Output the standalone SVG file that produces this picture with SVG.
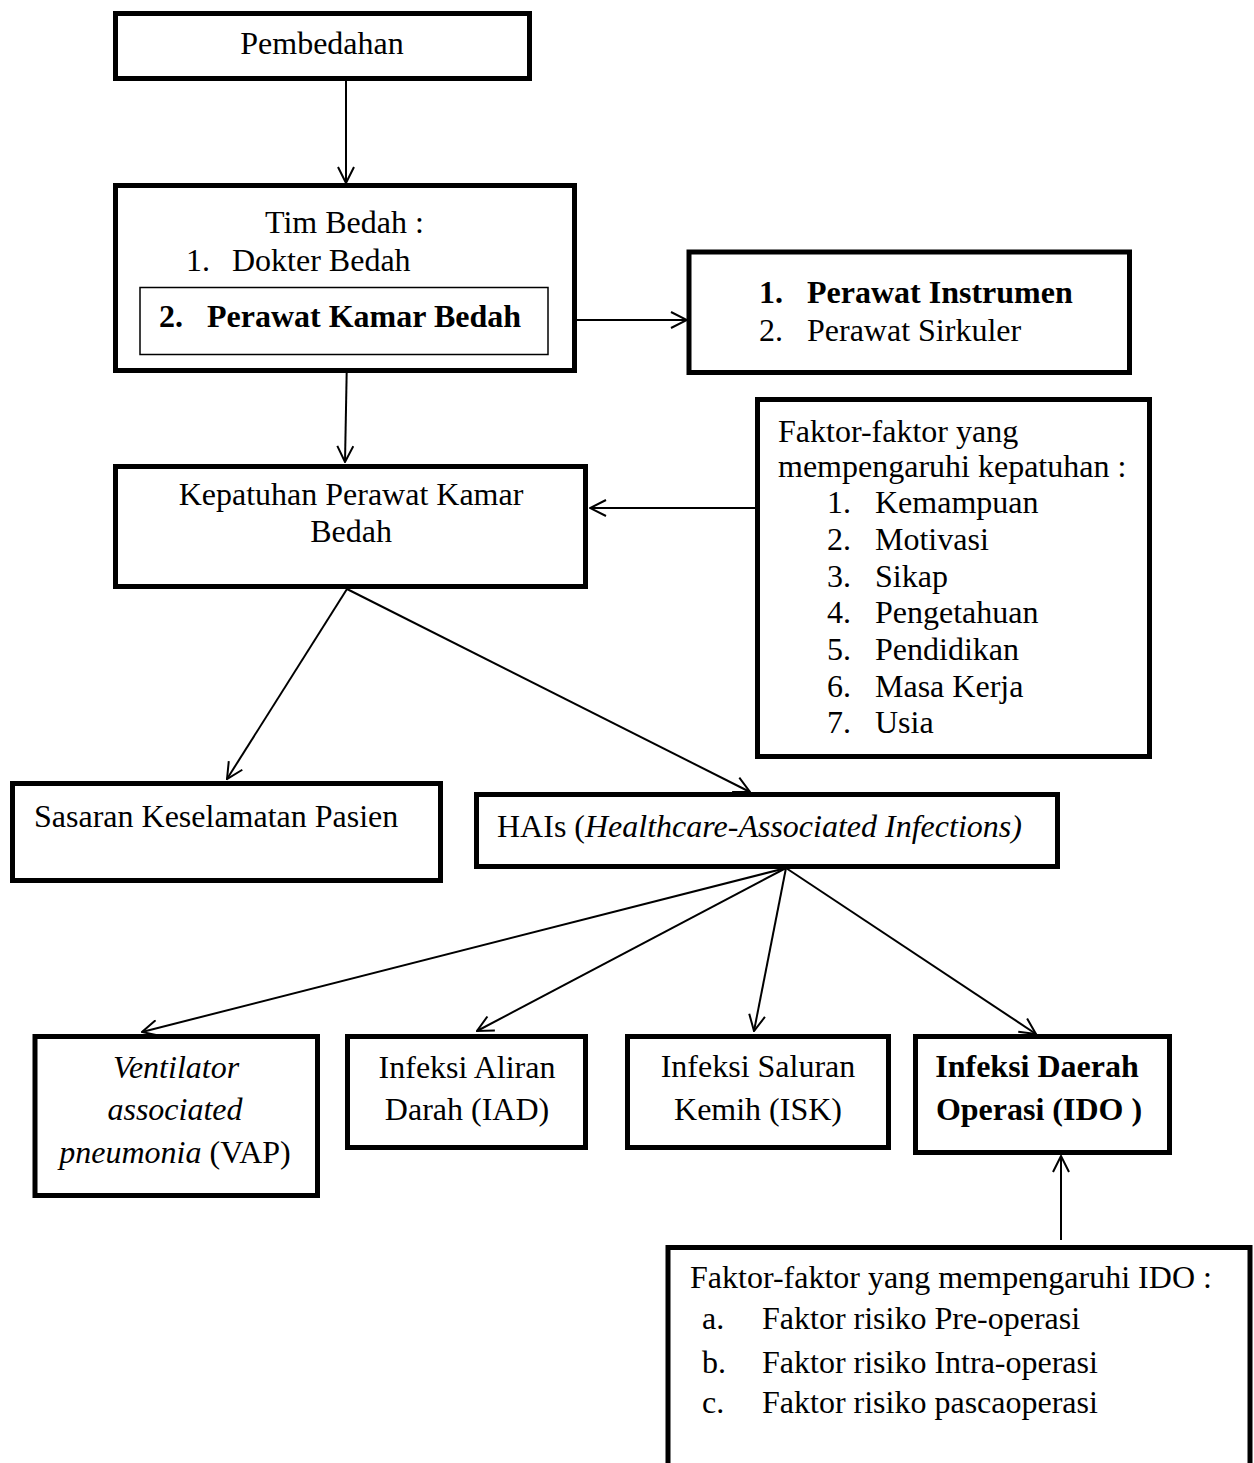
<svg xmlns="http://www.w3.org/2000/svg" width="1254" height="1463" viewBox="0 0 1254 1463">
<style>
text { font-family: "Liberation Serif", "Times New Roman", serif; font-size: 32px; fill: #000; }
.b { font-weight: bold; }
.i { font-style: italic; }
.m { text-anchor: middle; }
.box { fill: #fff; stroke: #000; stroke-width: 5; }
.thin { fill: #fff; stroke: #000; stroke-width: 1.5; }
.edge { fill: none; stroke: #000; stroke-width: 2; marker-end: url(#arr); }
</style>
<defs>
<marker id="arr" viewBox="0 0 18 18" refX="17" refY="9" markerWidth="18" markerHeight="18" markerUnits="userSpaceOnUse" orient="auto">
<path d="M1,1 L17,9 L1,17" fill="none" stroke="#000" stroke-width="2"/>
</marker>
</defs>
<rect width="1254" height="1463" fill="#fff"/>

<g id="connectors">
<line class="edge" x1="346" y1="81" x2="346" y2="183"/>
<line class="edge" x1="549" y1="320" x2="687" y2="320"/>
<line class="edge" x1="347" y1="355" x2="345" y2="462"/>
<line class="edge" x1="755" y1="508" x2="590" y2="508"/>
<line class="edge" x1="347" y1="589" x2="227" y2="779"/>
<line class="edge" x1="347" y1="589" x2="750" y2="792"/>
<line class="edge" x1="786" y1="868" x2="142" y2="1032"/>
<line class="edge" x1="786" y1="868" x2="477" y2="1031"/>
<line class="edge" x1="786" y1="868" x2="754" y2="1031"/>
<line class="edge" x1="786" y1="868" x2="1036" y2="1034"/>
<line class="edge" x1="1061" y1="1240" x2="1061" y2="1156"/>
</g>

<g id="pembedahan">
<rect class="box" x="115.5" y="13.5" width="414" height="65"/>
<text class="m" x="322" y="54">Pembedahan</text>
</g>

<g id="tim-bedah">
<rect class="box" x="115.5" y="185.5" width="459" height="185"/>
<text x="265" y="233">Tim Bedah :</text>
<text x="186" y="271">1.</text>
<text x="232" y="271">Dokter Bedah</text>
</g>

<g id="perawat-kamar-bedah">
<rect class="thin" x="140" y="287.5" width="408" height="67"/>
<text class="b" x="159" y="327">2.</text>
<text class="b" x="207" y="327">Perawat Kamar Bedah</text>
</g>

<g id="perawat-instrumen">
<rect class="box" x="689" y="252" width="440.5" height="120.5"/>
<text class="b" x="759" y="303">1.</text>
<text class="b" x="807" y="303">Perawat Instrumen</text>
<text x="759" y="341">2.</text>
<text x="807" y="341">Perawat Sirkuler</text>
</g>

<g id="kepatuhan">
<rect class="box" x="115.5" y="466.5" width="470" height="120"/>
<text class="m" x="351" y="505">Kepatuhan Perawat Kamar</text>
<text class="m" x="351" y="542">Bedah</text>
</g>

<g id="faktor-kepatuhan">
<rect class="box" x="757.5" y="399.5" width="392" height="357"/>
<text x="778" y="442">Faktor-faktor yang</text>
<text x="778" y="477">mempengaruhi kepatuhan :</text>
<text x="827" y="513">1.</text><text x="875" y="513">Kemampuan</text>
<text x="827" y="550">2.</text><text x="875" y="550">Motivasi</text>
<text x="827" y="587">3.</text><text x="875" y="587">Sikap</text>
<text x="827" y="623">4.</text><text x="875" y="623">Pengetahuan</text>
<text x="827" y="660">5.</text><text x="875" y="660">Pendidikan</text>
<text x="827" y="697">6.</text><text x="875" y="697">Masa Kerja</text>
<text x="827" y="733">7.</text><text x="875" y="733">Usia</text>
</g>

<g id="sasaran">
<rect class="box" x="12.5" y="783.5" width="428" height="97"/>
<text x="34" y="827">Sasaran Keselamatan Pasien</text>
</g>

<g id="hais">
<rect class="box" x="476.5" y="794.5" width="581" height="72"/>
<text x="497" y="837">HAIs (<tspan class="i">Healthcare-Associated Infections)</tspan></text>
</g>

<g id="vap">
<rect class="box" x="35" y="1036.5" width="282.5" height="159"/>
<text class="m i" x="176" y="1078">Ventilator</text>
<text class="m i" x="175" y="1120">associated</text>
<text class="m" x="175" y="1163"><tspan class="i">pneumonia</tspan> (VAP)</text>
</g>

<g id="iad">
<rect class="box" x="347.5" y="1036.5" width="238" height="111"/>
<text class="m" x="467" y="1078">Infeksi Aliran</text>
<text class="m" x="467" y="1120">Darah (IAD)</text>
</g>

<g id="isk">
<rect class="box" x="627.5" y="1036.5" width="261" height="111"/>
<text class="m" x="758" y="1077">Infeksi Saluran</text>
<text class="m" x="758" y="1120">Kemih (ISK)</text>
</g>

<g id="ido">
<rect class="box" x="915.5" y="1036.5" width="254" height="116"/>
<text class="m b" x="1037" y="1077">Infeksi Daerah</text>
<text class="m b" x="1039" y="1120">Operasi (IDO )</text>
</g>

<g id="faktor-ido">
<rect class="box" x="668" y="1247.5" width="582" height="240"/>
<text x="690" y="1288">Faktor-faktor yang mempengaruhi IDO :</text>
<text x="702" y="1329">a.</text><text x="762" y="1329">Faktor risiko Pre-operasi</text>
<text x="702" y="1373">b.</text><text x="762" y="1373">Faktor risiko Intra-operasi</text>
<text x="702" y="1413">c.</text><text x="762" y="1413">Faktor risiko pascaoperasi</text>
</g>
</svg>
